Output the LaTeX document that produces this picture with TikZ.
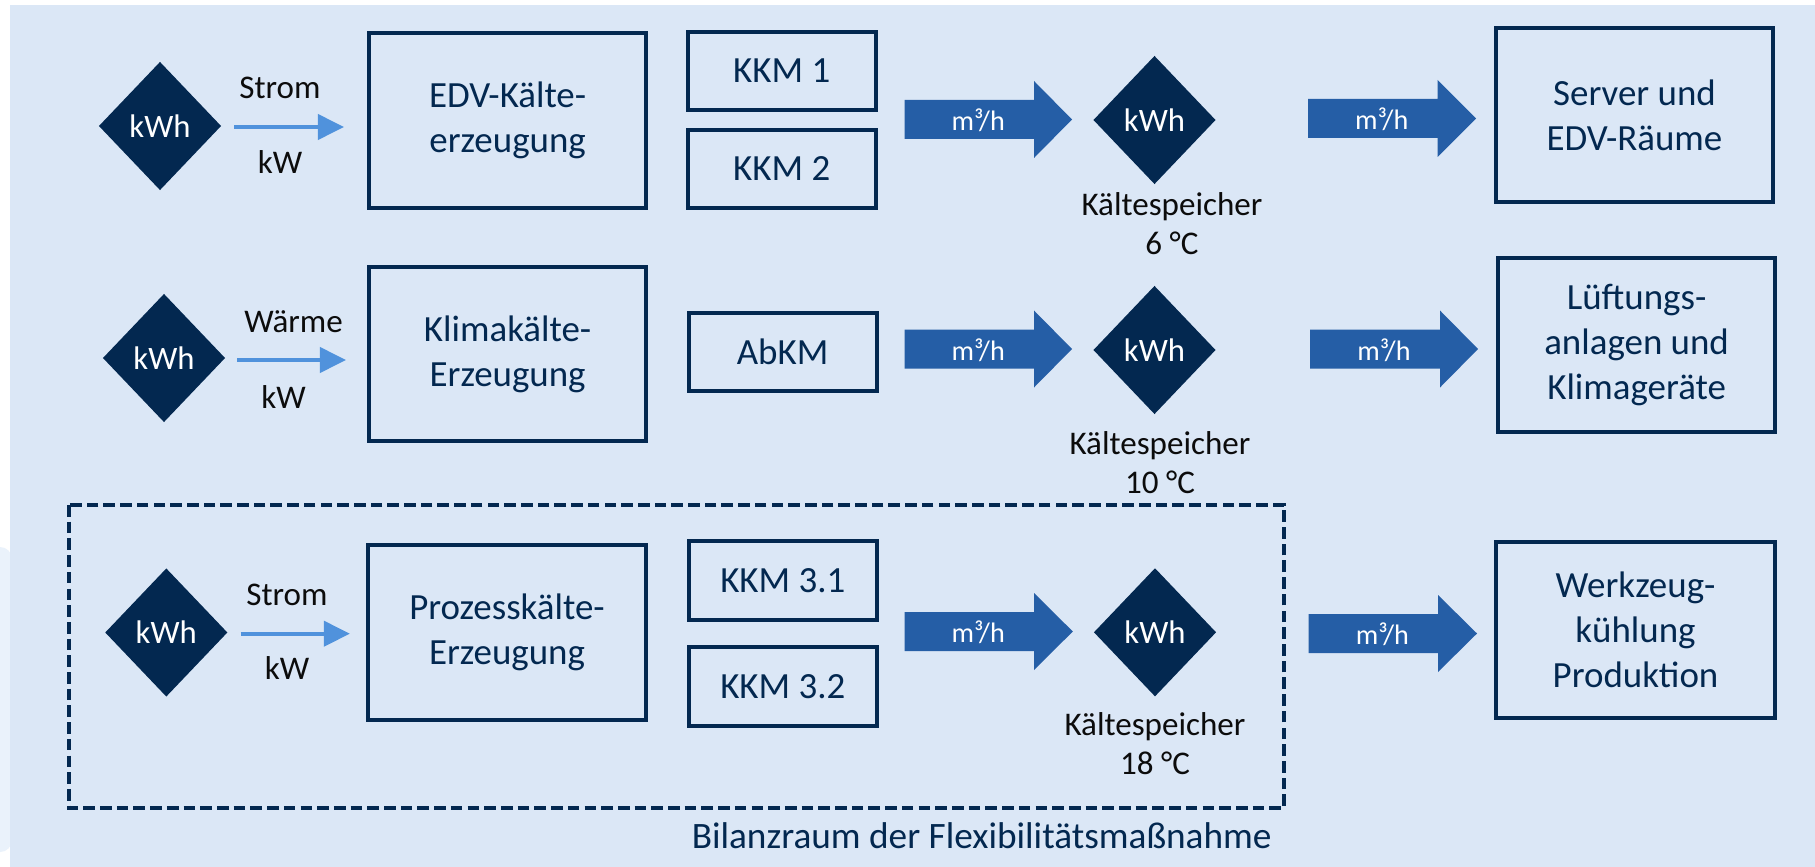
\documentclass[tikz,border=0pt]{standalone}
\usepackage{fontspec}
\setmainfont{Carlito}
\usetikzlibrary{shapes.geometric,arrows.meta}
\definecolor{navy}{RGB}{3,40,80}
\definecolor{bgblue}{RGB}{219,231,246}
\definecolor{bglight}{RGB}{234,242,251}
\definecolor{arrowblue}{RGB}{37,94,166}
\definecolor{thinblue}{RGB}{80,146,220}
\definecolor{labelblack}{RGB}{12,12,12}

\newcommand\bigflow[5]{% #1 tail x, #2 centre y, #3 head start x, #4 tip x, #5 name
  \fill[arrowblue] (#1,{#2-19.5}) -- (#3,{#2-19.5}) -- (#3,{#2-38.5}) -- (#4,#2)
    -- (#3,{#2+38.5}) -- (#3,{#2+19.5}) -- (#1,{#2+19.5}) -- cycle;
  \node[flow] (#5) at ({(#1+#3)/2+9},{#2+1}) {m³/h};
}

\tikzset{
  box/.style={draw=navy, line width=1.14pt, text=navy, align=center, inner sep=0pt,
    outer sep=0pt, font=\fontsize{10.5pt}{12.8pt}\selectfont},
  kdia/.style={diamond, fill=navy, text=white, inner sep=0pt, outer sep=0pt,
    minimum width=1.22cm, minimum height=1.28cm, font=\fontsize{9.3pt}{11pt}\selectfont},
  lbl/.style={text=labelblack, inner sep=0pt, align=center,
    font=\fontsize{9.4pt}{11.1pt}\selectfont},
  flow/.style={text=white, inner sep=0pt, font=\fontsize{8pt}{9pt}\selectfont},
  feed/.style={draw=thinblue, line width=1.14pt, -{Triangle[length=7.4pt,width=7.1pt]}},
  bilanzbox/.style={draw=navy, line width=1.14pt, dash pattern=on 3.3pt off 1.45pt},
}

\begin{document}
\begin{tikzpicture}[x=0.01cm, y=-0.01cm]
\useasboundingbox (0,0) rectangle (1815,867);
\fill[white] (0,0) rectangle (1815,867);
\begin{scope}
  \clip (0,0) rectangle (1815,867);
  \fill[bglight, rounded corners=0.12cm] (-30,547) rectangle (12,852);
\end{scope}
\fill[bgblue] (10,5) rectangle (1815,867);

% dashed boundary
\draw[bilanzbox] (69,505) rectangle (1284,808);
\node[text=navy, inner sep=0pt, font=\fontsize{10.6pt}{12pt}\selectfont] (bil) at (981.7,836)
  {Bilanzraum der Flexibilitätsmaßnahme};

% ---------- row 1 ----------
\node[kdia] (dL1) at (160,126) {kWh};
\node[lbl] (s1) at (280,88) {Strom};
\node[lbl] (w1) at (280,162) {kW};
\node[box, minimum width=2.77cm, minimum height=1.75cm] (edv) at (507.6,120.5)
  {EDV-Kälte-\\erzeugung};
\draw[feed] ([xshift=0.13cm,yshift=-0.01cm]dL1.east) -- ([xshift=-0.25cm,yshift=-0.01cm]dL1.east -| edv.west);
\node[box, minimum width=1.88cm, minimum height=0.78cm] (k1) at (781.7,70.9) {KKM 1};
\node[box, minimum width=1.88cm, minimum height=0.78cm] (k2) at (781.7,168.9) {KKM 2};
\bigflow{904.5}{119.5}{1034}{1072}{fm1}
\node[kdia] (dM1) at (1154.5,120) {kWh};
\node[lbl] (ks1) at (1172,223.5) {Kältespeicher\\6 °C};
\bigflow{1308}{118.5}{1437.5}{1476}{fr1}
\node[box, minimum width=2.77cm, minimum height=1.74cm] (srv) at (1634.5,115)
  {Server und\\EDV-Räume};

% ---------- row 2 ----------
\node[kdia] (dL2) at (164,358) {kWh};
\node[lbl] (s2) at (293.5,321.7) {Wärme};
\node[lbl] (w2) at (283.5,396.7) {kW};
\node[box, minimum width=2.77cm, minimum height=1.74cm] (kli) at (507.6,354.2)
  {Klimakälte-\\Erzeugung};
\draw[feed] ([xshift=0.12cm,yshift=-0.02cm]dL2.east) -- ([xshift=-0.23cm,yshift=-0.02cm]dL2.east -| kli.west);
\node[box, minimum width=1.88cm, minimum height=0.78cm] (abk) at (782.6,351.8) {AbKM};
\bigflow{904.5}{349}{1034}{1072}{fm2}
\node[kdia] (dM2) at (1154.5,350) {kWh};
\node[lbl] (ks2) at (1160,462.5) {Kältespeicher\\10 °C};
\bigflow{1310}{349}{1440}{1478}{fr2}
\node[box, minimum width=2.77cm, minimum height=1.74cm] (luf) at (1636.6,345.2)
  {Lüftungs-\\anlagen und\\Klimageräte};

% ---------- row 3 ----------
\node[kdia] (dL3) at (166.3,632.5) {kWh};
\node[lbl] (s3) at (287,595) {Strom};
\node[lbl] (w3) at (287,668.3) {kW};
\node[box, minimum width=2.78cm, minimum height=1.74cm] (pro) at (507,632.5)
  {Prozesskälte-\\Erzeugung};
\draw[feed] ([xshift=0.133cm,yshift=-0.012cm]dL3.east) -- ([xshift=-0.18cm,yshift=-0.012cm]dL3.east -| pro.west);
\node[box, minimum width=1.88cm, minimum height=0.79cm] (k31) at (782.8,580.7) {KKM 3.1};
\node[box, minimum width=1.88cm, minimum height=0.79cm] (k32) at (782.8,686.2) {KKM 3.2};
\bigflow{904.5}{631.5}{1034}{1072.8}{fm3}
\node[kdia] (dM3) at (1155,632.3) {kWh};
\node[lbl] (ks3) at (1155,743.7) {Kältespeicher\\18 °C};
\bigflow{1308.7}{633.5}{1438}{1477}{fr3}
\node[box, minimum width=2.78cm, minimum height=1.76cm] (wer) at (1635.5,630)
  {Werkzeug-\\kühlung\\Produktion};
\end{tikzpicture}
\end{document}
